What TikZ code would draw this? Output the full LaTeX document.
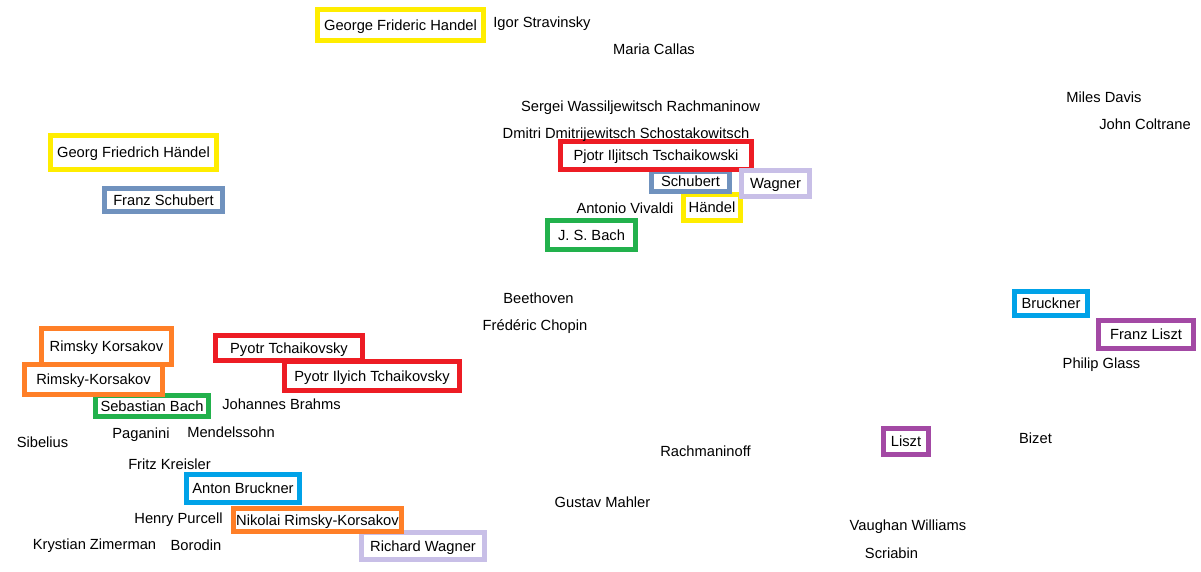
\documentclass[tikz,border=0pt]{standalone}
\usepackage{fontspec}
\setmainfont{Liberation Sans}
\usetikzlibrary{positioning}
\definecolor{myyellow}{RGB}{255,237,0}
\definecolor{myred}{RGB}{237,28,36}
\definecolor{mysteel}{RGB}{112,146,190}
\definecolor{mylavender}{RGB}{200,191,231}
\definecolor{mygreen}{RGB}{34,177,76}
\definecolor{myorange}{RGB}{255,127,39}
\definecolor{mycyan}{RGB}{0,162,232}
\definecolor{mypurple}{RGB}{163,73,164}

\begin{document}
\begin{tikzpicture}[x=1pt,y=-1pt, every node/.style={font=\fontsize{14.7}{17}\selectfont, inner sep=0pt, text height=10.5pt, text depth=0pt},
    boxed/.style={draw=#1, line width=5pt}]
    \useasboundingbox[fill=white] (0,0) rectangle (1201,571);
    % boxed names
    \node[boxed=myyellow, minimum width=166, minimum height=31] (gfhandel) at (400.5,25) {George Frideric Handel};
    \node[boxed=myyellow, minimum width=166, minimum height=34] (gfhaendel) at (133.5,152.5) {Georg Friedrich Händel};
    \node[boxed=myyellow, minimum width=57, minimum height=26] (haendel) at (712,207.5) {Händel};
    \node[boxed=mysteel, minimum width=118, minimum height=23] (fschubert) at (163.5,200) {Franz Schubert};
    \node[boxed=mysteel, minimum width=78, minimum height=20] (schubert) at (690.5,181.5) {Schubert};
    \node[boxed=myred, minimum width=191, minimum height=28] (pjotr) at (656,155.5) {Pjotr Iljitsch Tschaikowski};
    \node[boxed=myred, minimum width=147, minimum height=25] (pyotr) at (289,348) {Pyotr Tchaikovsky};
    \node[boxed=myred, minimum width=175, minimum height=29] (pyotri) at (372,376) {Pyotr Ilyich Tchaikovsky};
    \node[boxed=mylavender, minimum width=68, minimum height=26] (wagner) at (775.5,183.5) {Wagner};
    \node[boxed=mylavender, minimum width=123, minimum height=27] (rwagner) at (423,546) {Richard Wagner};
    \node[boxed=mygreen, minimum width=88, minimum height=29] (jsbach) at (591.5,235) {J. S. Bach};
    \node[boxed=mygreen, minimum width=113, minimum height=21] (sbach) at (152,406) {Sebastian Bach};
    \node[boxed=myorange, minimum width=130, minimum height=36] (rimsky) at (106.5,346.5) {Rimsky Korsakov};
    \node[boxed=myorange, minimum width=138, minimum height=30] (rimskyk) at (93.5,379.5) {Rimsky-Korsakov};
    \node[boxed=myorange, minimum width=168, minimum height=23] (nrimsky) at (317.5,520) {Nikolai Rimsky-Korsakov};
    \node[boxed=mycyan, minimum width=113, minimum height=28] (abruckner) at (243,488.5) {Anton Bruckner};
    \node[boxed=mycyan, minimum width=73, minimum height=24] (bruckner) at (1051,303.5) {Bruckner};
    \node[boxed=mypurple, minimum width=95, minimum height=28] (fliszt) at (1146,334.5) {Franz Liszt};
    \node[boxed=mypurple, minimum width=45, minimum height=26] (liszt) at (906,441.5) {Liszt};
    % plain names
    \node (igor) at (542,22) {Igor Stravinsky};
    \node (callas) at (654,49) {Maria Callas};
    \node (sergei) at (640.5,106) {Sergei Wassiljewitsch Rachmaninow};
    \node (dmitri) at (626,133) {Dmitri Dmitrijewitsch Schostakowitsch};
    \node (vivaldi) at (625,208.5) {Antonio Vivaldi};
    \node (miles) at (1104,97.5) {Miles Davis};
    \node (coltrane) at (1145,124.5) {John Coltrane};
    \node (beethoven) at (538.5,298) {Beethoven};
    \node (chopin) at (535,325) {Frédéric Chopin};
    \node (brahms) at (281.5,404) {Johannes Brahms};
    \node (sibelius) at (42.5,442) {Sibelius};
    \node (paganini) at (141,433) {Paganini};
    \node (mendelssohn) at (231,432) {Mendelssohn};
    \node (kreisler) at (169.5,464) {Fritz Kreisler};
    \node (purcell) at (178.5,518) {Henry Purcell};
    \node (zimerman) at (94.5,544) {Krystian Zimerman};
    \node (borodin) at (196,545) {Borodin};
    \node (glass) at (1101.5,363) {Philip Glass};
    \node (bizet) at (1035.5,438) {Bizet};
    \node (vaughan) at (908,525) {Vaughan Williams};
    \node (scriabin) at (891.5,553) {Scriabin};
    \node (rachmaninoff) at (705.5,451) {Rachmaninoff};
    \node (mahler) at (602.5,502) {Gustav Mahler};
\end{tikzpicture}
\end{document}
